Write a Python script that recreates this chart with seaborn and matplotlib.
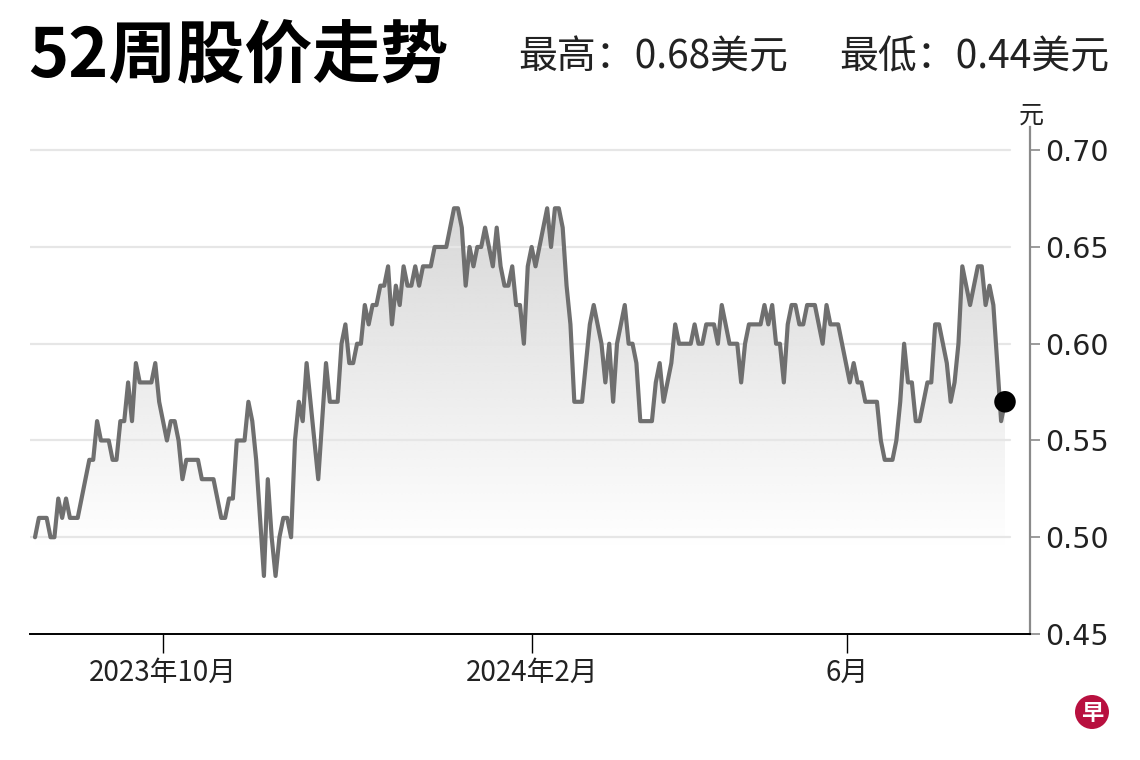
import numpy as np
import pandas as pd
import matplotlib
matplotlib.use("Agg")
import matplotlib.pyplot as plt
import seaborn as sns
from matplotlib.patches import Ellipse, PathPatch

# ---------------- data (daily closing price, USD) ----------------
prices = [
    0.50, 0.51, 0.51, 0.51, 0.50, 0.50, 0.52, 0.51, 0.52, 0.51,
    0.51, 0.51, 0.52, 0.53, 0.54, 0.54, 0.56, 0.55, 0.55, 0.55,
    0.54, 0.54, 0.56, 0.56, 0.58, 0.56, 0.59, 0.58, 0.58, 0.58,
    0.58, 0.59, 0.57, 0.56, 0.55, 0.56, 0.56, 0.55, 0.53, 0.54,
    0.54, 0.54, 0.54, 0.53, 0.53, 0.53, 0.53, 0.52, 0.51, 0.51,
    0.52, 0.52, 0.55, 0.55, 0.55, 0.57, 0.56, 0.54, 0.51, 0.48,
    0.53, 0.50, 0.48, 0.50, 0.51, 0.51, 0.50, 0.55, 0.57, 0.56,
    0.59, 0.57, 0.55, 0.53, 0.56, 0.59, 0.57, 0.57, 0.57, 0.60,
    0.61, 0.59, 0.59, 0.60, 0.60, 0.62, 0.61, 0.62, 0.62, 0.63,
    0.63, 0.64, 0.61, 0.63, 0.62, 0.64, 0.63, 0.63, 0.64, 0.63,
    0.64, 0.64, 0.64, 0.65, 0.65, 0.65, 0.65, 0.66, 0.67, 0.67,
    0.66, 0.63, 0.65, 0.64, 0.65, 0.65, 0.66, 0.65, 0.64, 0.66,
    0.64, 0.63, 0.63, 0.64, 0.62, 0.62, 0.60, 0.64, 0.65, 0.64,
    0.65, 0.66, 0.67, 0.65, 0.67, 0.67, 0.66, 0.63, 0.61, 0.57,
    0.57, 0.57, 0.59, 0.61, 0.62, 0.61, 0.60, 0.58, 0.60, 0.57,
    0.60, 0.61, 0.62, 0.60, 0.60, 0.59, 0.56, 0.56, 0.56, 0.56,
    0.58, 0.59, 0.57, 0.58, 0.59, 0.61, 0.60, 0.60, 0.60, 0.60,
    0.61, 0.60, 0.60, 0.61, 0.61, 0.61, 0.60, 0.62, 0.61, 0.60,
    0.60, 0.60, 0.58, 0.60, 0.61, 0.61, 0.61, 0.61, 0.62, 0.61,
    0.62, 0.60, 0.60, 0.58, 0.61, 0.62, 0.62, 0.61, 0.61, 0.62,
    0.62, 0.62, 0.61, 0.60, 0.62, 0.61, 0.61, 0.61, 0.60, 0.59,
    0.58, 0.59, 0.58, 0.58, 0.57,
    0.57, 0.57, 0.57, 0.55, 0.54, 0.54, 0.54, 0.55, 0.57, 0.60,
    0.58, 0.58, 0.56, 0.56, 0.57, 0.58, 0.58, 0.61, 0.61, 0.60,
    0.59, 0.57, 0.58, 0.60, 0.64, 0.63, 0.62, 0.63, 0.64, 0.64,
    0.62, 0.63, 0.62, 0.59, 0.56, 0.57,
]
day_index = list(range(len(prices)))

y_ticks = [0.45, 0.50, 0.55, 0.60, 0.65, 0.70]
y_tick_labels = ["0.45", "0.50", "0.55", "0.60", "0.65", "0.70"]
x_tick_labels = ["2023年10月", "2024年2月", "6月"]
title_text = "52周股价走势"
high_text = "最高：0.68美元"
low_text = "最低：0.44美元"
unit_text = "元"
logo_text = "早"

df = pd.DataFrame({"day": day_index, "price": prices})

# ---------------- layout / style ----------------
W, H = 1140, 760
sns.set_theme(style="white")
plt.rcParams["font.family"] = ["Noto Sans CJK SC", "DejaVu Sans"]

fig = plt.figure(figsize=(W / 100, H / 100), dpi=100)
fig.patch.set_facecolor("white")
ax = fig.add_axes([30 / W, 126 / H, 1000 / W, 507 / H])
ax.set_facecolor("white")

px_per_day = 970 / (len(prices) - 1)
x_left = -5 / px_per_day
x_right = x_left + 1000 / px_per_day
y_low, y_top = 0.45, 0.712
ax.set_xlim(x_left, x_right)
ax.set_ylim(y_low, y_top)

# gradient fill under the line
poly = ax.fill_between(df["day"], df["price"], y_low, facecolor="none", edgecolor="none")
clip = PathPatch(poly.get_paths()[0], transform=ax.transData, facecolor="none", edgecolor="none")
ax.add_patch(clip)
yy = np.linspace(y_low, y_top, 400)
alpha = np.clip((yy - 0.495) / 0.21, 0, 1.0) * 0.92
img = np.zeros((len(yy), 2, 4))
img[..., :3] = 0.80
img[..., 3] = alpha[:, None]
im = ax.imshow(img, extent=[x_left, x_right, y_low, y_top], origin="lower",
               aspect="auto", zorder=1, interpolation="bilinear")
im.set_clip_path(clip)

# grid lines
for yv in y_ticks[1:]:
    ax.axhline(yv, xmin=0, xmax=0.98, color="#e6e6e6", lw=1.6, zorder=1.5)

sns.lineplot(data=df, x="day", y="price", ax=ax, color="#6f6f6f", linewidth=3.0,
             zorder=3, legend=False)
ax.scatter([day_index[-1]], [prices[-1]], s=240, color="black", zorder=4, edgecolor="none")

ax.set_xlabel("")
ax.set_ylabel("")

# spines
ax.spines["left"].set_visible(False)
ax.spines["top"].set_visible(False)
ax.spines["right"].set_color("#8a8a8a")
ax.spines["right"].set_linewidth(1.6)
ax.spines["bottom"].set_color("black")
ax.spines["bottom"].set_linewidth(1.4)

# y axis on right
ax.yaxis.tick_right()
ax.set_yticks(y_ticks)
ax.set_yticklabels(y_tick_labels, fontfamily="DejaVu Sans")
ax.tick_params(axis="y", which="major", right=True, left=False, direction="out",
               length=7, width=1.2, color="#8a8a8a", labelsize=20.5,
               labelcolor="#222222", pad=4)

# x ticks
tick_px = [163, 532, 847]
tick_pos = [(p - 35) / px_per_day for p in tick_px]
ax.set_xticks(tick_pos)
ax.set_xticklabels(x_tick_labels)
ax.tick_params(axis="x", which="major", bottom=True, direction="out", length=14,
               width=1.0, color="black", labelsize=20, labelcolor="#222222", pad=3)

# texts
fig.text(28 / W, 1 - 58 / H, title_text, fontsize=49, fontweight=900,
         color="black", ha="left", va="center")
fig.text(518 / W, 1 - 57 / H, high_text, fontsize=28, color="#222222",
         ha="left", va="center")
fig.text(1109 / W, 1 - 57 / H, low_text, fontsize=28, color="#222222",
         ha="right", va="center")
fig.text(1031 / W, 1 - 116 / H, unit_text, fontsize=18, color="#222222",
         ha="center", va="center")

# logo
fig.patches.append(Ellipse((1092 / W, 1 - 712 / H), 34 / W, 34 / H,
                           transform=fig.transFigure, facecolor="#b8103f",
                           edgecolor="none"))
fig.text(1092 / W, 1 - 713 / H, logo_text, fontsize=16, fontweight="bold",
         color="white", ha="center", va="center")

fig.savefig("out.png", dpi=100, facecolor="white")
